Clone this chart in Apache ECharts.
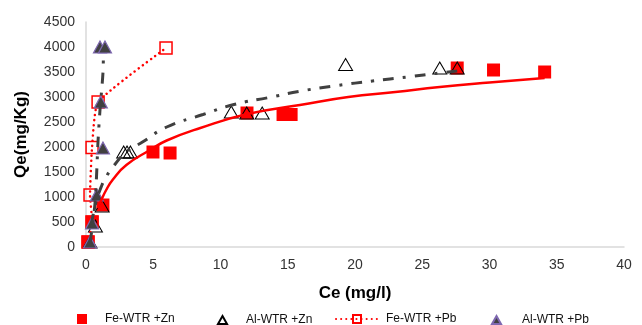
<!DOCTYPE html>
<html>
<head>
<meta charset="utf-8">
<script src="https://cdn.jsdelivr.net/npm/echarts@6/dist/echarts.min.js"></script>
<style>
html,body{margin:0;padding:0;background:#fff;}
#chart{width:642px;height:325px;}
</style>
</head>
<body>
<div id="chart"></div>
<script>
// Observed points [Ce, Qe]
const feZn = [[0.15,100],[0.45,500],[1.26,840],[4.98,1900],[6.25,1880],[11.97,2680],[14.65,2650],[15.25,2650],[27.6,3580],[30.3,3540],[34.1,3500]];
const alZn = [[0.3,100],[0.7,420],[1.2,820],[2.8,1900],[3.05,1900],[3.3,1900],[10.8,2700],[11.95,2680],[13.1,2680],[19.3,3650],[26.3,3580],[27.6,3580]];
const fePb = [[0.15,100],[0.45,500],[0.3,1040],[0.45,1990],[0.9,2900],[5.95,3980]];
const alPb = [[0.3,100],[0.45,480],[0.8,1040],[1.26,1980],[1.1,2900],[1.04,4000],[1.41,4000]];
// Trend lines
const feZnTrend = [[0.85,780],[1.04,880],[1.5,1140],[2,1350],[3,1640],[4.76,1940],[6,2130],[8.5,2380],[12,2660],[15.9,2840],[19.5,3000],[23,3100],[26.3,3200],[30,3290],[34.1,3380]];
const alZnTrend = [[0.4,450],[0.7,850],[1.04,1140],[1.5,1400],[2,1600],[3,1900],[4.2,2100],[6,2400],[8.7,2650],[11,2850],[13.8,3000],[16,3120],[18.7,3230],[21.3,3320],[23.9,3400],[26.3,3480],[27.6,3520]];
const alPbTrend = [[0.3,80],[0.67,880],[0.9,2140],[1.04,2740],[1.26,3480],[1.3,3950]];
const names = ['Fe-WTR +Zn','Al-WTR +Zn','Fe-WTR +Pb','Al-WTR +Pb'];
const xTicks = {min:0,max:40,interval:5};
const yTicks = {min:0,max:4500,interval:500};

const chart = echarts.init(document.getElementById('chart'));
const font = 'Liberation Sans';
const dashDot = [11,9,3,9];
const legendText = {fontFamily:font,fontSize:12,color:'#111'};
const plain = v => String(v);
chart.setOption({
  animation:false,
  grid:{left:86,right:18,top:22,bottom:78,containLabel:false},
  xAxis:{type:'value',min:xTicks.min,max:xTicks.max,interval:xTicks.interval,
    name:'Ce (mg/l)',nameLocation:'middle',nameGap:38,
    nameTextStyle:{fontFamily:font,fontSize:17,fontWeight:'bold',color:'#000'},
    axisLine:{show:true,lineStyle:{color:'#d9d9d9',width:1.5}},
    axisTick:{show:false},splitLine:{show:false},
    axisLabel:{fontFamily:font,fontSize:14,color:'#333',margin:11,formatter:plain}},
  yAxis:{type:'value',min:yTicks.min,max:yTicks.max,interval:yTicks.interval,
    name:'Qe(mg/Kg)',nameLocation:'middle',nameGap:56,
    nameTextStyle:{fontFamily:font,fontSize:17,fontWeight:'bold',color:'#000'},
    axisLine:{show:true,lineStyle:{color:'#d9d9d9',width:1.5}},
    axisTick:{show:false},splitLine:{show:false},
    axisLabel:{fontFamily:font,fontSize:14,color:'#333',margin:11,formatter:plain}},
  legend:[
    {data:[names[0]],left:72,top:308,itemWidth:10,itemHeight:10,textStyle:Object.assign({padding:[0,0,0,13]},legendText)},
    {data:[names[1]],left:212,top:309,itemWidth:9,itemHeight:8,textStyle:Object.assign({padding:[0,0,0,14]},legendText)},
    {data:[names[2]],left:330,top:308,itemWidth:42,itemHeight:10,textStyle:Object.assign({padding:[0,0,0,3]},legendText)},
    {data:[names[3]],left:486,top:309,itemWidth:9,itemHeight:8,textStyle:Object.assign({padding:[0,0,0,16]},legendText)}
  ],
  series:[
    {name:names[0],type:'scatter',data:feZn,symbol:'rect',symbolSize:13,z:2,
      itemStyle:{color:'#ff0000',opacity:1}},
    {name:names[1],type:'scatter',data:alZn,symbol:'triangle',symbolSize:[14,12],z:3,
      itemStyle:{color:'rgba(255,255,255,0)',borderColor:'#000',borderWidth:1,opacity:1}},
    {name:names[2],type:'line',data:fePb,symbol:'rect',symbolSize:12,smooth:0.15,z:4,
      lineStyle:{color:'#ff0000',width:2.5,type:[0.1,5],cap:'round'},
      itemStyle:{color:'rgba(255,255,255,0)',borderColor:'#ff0000',borderWidth:1.5,opacity:1}},
    {name:names[3],type:'scatter',data:alPb,symbol:'triangle',symbolSize:[13,12],z:5,
      itemStyle:{color:'#404040',borderColor:'#7e68b0',borderWidth:1.2,opacity:1}},
    {type:'line',data:feZnTrend,smooth:true,symbol:'none',z:6,silent:true,
      lineStyle:{color:'#ff0000',width:2.5}},
    {type:'line',data:alZnTrend,smooth:true,symbol:'none',z:7,silent:true,
      lineStyle:{color:'#404040',width:3,type:dashDot}},
    {type:'line',data:alPbTrend,smooth:0.3,symbol:'none',z:7,silent:true,
      lineStyle:{color:'#404040',width:3,type:dashDot}}
  ]
});
</script>
</body>
</html>
